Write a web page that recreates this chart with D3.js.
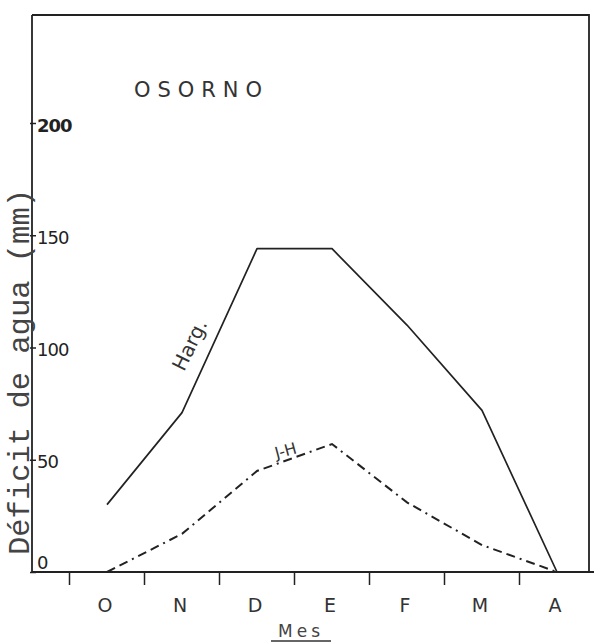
<!DOCTYPE html>
<html>
<head>
<meta charset="utf-8">
<script src="https://cdn.jsdelivr.net/npm/d3@7"></script>
<style>
  html, body { margin: 0; padding: 0; background: #ffffff; }
  svg { display: block; }
</style>
</head>
<body>
<svg id="chart" width="594" height="644"></svg>
<script>
// Months of the irrigation season (Oct → Apr)
const months = ["O", "N", "D", "E", "F", "M", "A"];
// Water deficit (mm) — Hargreaves method
const harg = [30, 71, 144, 144, 110, 72, 0];
// Water deficit (mm) — Jensen-Haise method
const jh = [0, 17, 45, 57, 31, 12, 0];
// Y-axis tick values
const yTicks = [0, 50, 100, 150, 200];

const svg = d3.select("#chart");
const ink = "#222";

const frame = { left: 32, right: 589, top: 15, bottom: 572 };

const x = d3.scaleBand().domain(months).range([69.5, 594.5]).paddingInner(0).paddingOuter(0);
const cx = m => x(m) + x.bandwidth() / 2;
const y = d3.scaleLinear().domain([0, 200]).range([572, 123]);

// Frame: top and right borders
svg.append("path")
  .attr("d", `M${frame.left},${frame.top}L${frame.right},${frame.top}L${frame.right},${frame.bottom}`)
  .attr("fill", "none").attr("stroke", ink).attr("stroke-width", 1.8);

// X axis line, extending past the frame
svg.append("line")
  .attr("x1", frame.left).attr("x2", 594)
  .attr("y1", y(0)).attr("y2", y(0))
  .attr("stroke", ink).attr("stroke-width", 2.2);

// Month boundary ticks below the axis
svg.append("g").selectAll("line").data(months).join("line")
  .attr("x1", d => x(d)).attr("x2", d => x(d))
  .attr("y1", y(0)).attr("y2", y(0) + 13)
  .attr("stroke", ink).attr("stroke-width", 1.5);

// Month labels
svg.append("g").selectAll("text").data(months).join("text")
  .attr("x", d => cx(d) - 2).attr("y", 612)
  .attr("text-anchor", "middle")
  .attr("font-family", "DejaVu Sans, sans-serif")
  .attr("font-size", 19)
  .attr("fill", "#333")
  .text(d => d);

// X axis title, underlined
svg.append("text")
  .attr("x", 301).attr("y", 637)
  .attr("text-anchor", "middle")
  .attr("font-family", "DejaVu Sans, sans-serif")
  .attr("font-size", 17)
  .attr("letter-spacing", 4)
  .attr("fill", "#444")
  .text("Mes");
svg.append("line")
  .attr("x1", 271).attr("x2", 331).attr("y1", 641).attr("y2", 641)
  .attr("stroke", "#333").attr("stroke-width", 1.5);

// Y axis with ticks and labels inside the frame
const yAxis = d3.axisRight(y).tickValues(yTicks).tickSize(4).tickPadding(1).tickFormat(d3.format("d"));
const gy = svg.append("g").attr("transform", `translate(${frame.left},0)`).call(yAxis);
gy.select(".domain").remove();
gy.append("line")
  .attr("x1", 0).attr("x2", 0)
  .attr("y1", frame.top).attr("y2", y(0))
  .attr("stroke", ink).attr("stroke-width", 1.8);
gy.selectAll(".tick line").attr("stroke", ink).attr("stroke-width", 1.5).attr("x1", -2);
gy.selectAll(".tick text")
  .attr("font-family", "DejaVu Sans, sans-serif")
  .attr("font-size", 18)
  .attr("letter-spacing", -1)
  .attr("fill", "#222")
  .attr("font-weight", d => d === 200 ? "bold" : "normal")
  .attr("dy", d => d === 0 ? "-0.2em" : "0.45em");

// Y axis title along the axis line
svg.append("text")
  .attr("transform", `translate(29,${372}) rotate(-90)`)
  .attr("text-anchor", "middle")
  .attr("font-family", "Liberation Mono, monospace")
  .attr("font-size", 29)
  .attr("textLength", 366)
  .attr("lengthAdjust", "spacingAndGlyphs")
  .attr("fill", "#444")
  .text("Déficit de agua (mm)");

// Station name
svg.append("text")
  .attr("x", 198).attr("y", 97)
  .attr("text-anchor", "middle")
  .attr("font-family", "DejaVu Sans, sans-serif")
  .attr("font-size", 21)
  .attr("textLength", 128)
  .attr("lengthAdjust", "spacing")
  .attr("fill", "#333")
  .text("OSORNO");

const line = d3.line().x((d, i) => cx(months[i])).y(d => y(d));

// Hargreaves series (solid)
svg.append("path")
  .datum(harg)
  .attr("d", line)
  .attr("fill", "none")
  .attr("stroke", ink)
  .attr("stroke-width", 1.7)
  .attr("stroke-linejoin", "round");

// Jensen-Haise series (dash-dot)
svg.append("path")
  .datum(jh)
  .attr("d", line)
  .attr("fill", "none")
  .attr("stroke", ink)
  .attr("stroke-width", 2)
  .attr("stroke-dasharray", "9,5,9,5,2,5");

// Series labels
svg.append("text")
  .attr("transform", "translate(196,348) rotate(-64)")
  .attr("text-anchor", "middle")
  .attr("font-family", "DejaVu Sans, sans-serif")
  .attr("font-size", 20)
  .attr("fill", "#333")
  .text("Harg.");

svg.append("text")
  .attr("transform", "translate(287,456) rotate(-15)")
  .attr("text-anchor", "middle")
  .attr("font-family", "DejaVu Sans, sans-serif")
  .attr("font-size", 16)
  .attr("fill", "#333")
  .text("J-H");
</script>
</body>
</html>
